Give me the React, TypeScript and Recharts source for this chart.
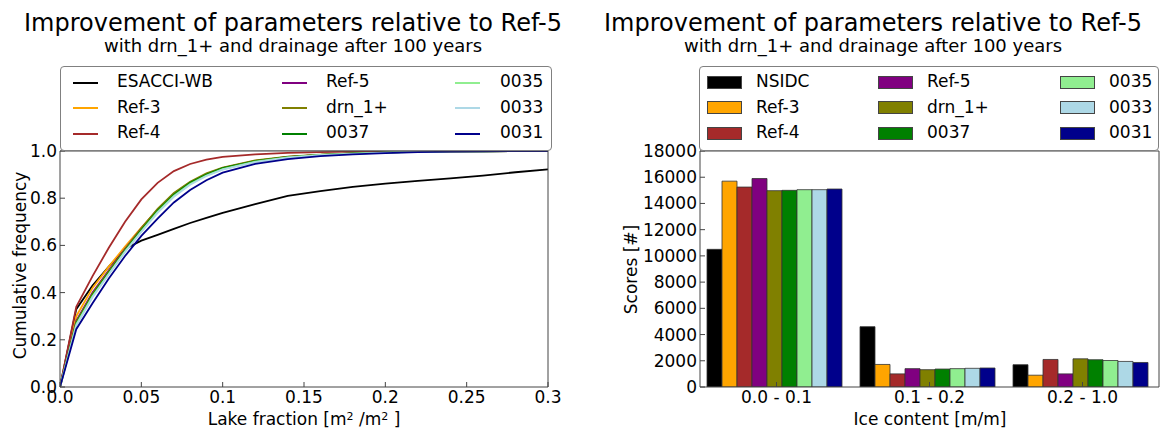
import React from 'react';
import { LineChart, Line, XAxis, YAxis, BarChart, Bar } from 'recharts';

// ---------- Left chart data ----------
const lakeFraction = [0, 0.01, 0.02, 0.03, 0.04, 0.05, 0.06, 0.07, 0.08, 0.09, 0.1, 0.12, 0.14, 0.16, 0.18, 0.2, 0.22, 0.24, 0.26, 0.28, 0.3];
const esacciWB = [0, 0.33, 0.43, 0.51, 0.585, 0.62, 0.645, 0.67, 0.695, 0.717, 0.738, 0.775, 0.81, 0.83, 0.848, 0.862, 0.873, 0.884, 0.896, 0.91, 0.922];
const lineRef3 = [0, 0.3, 0.42, 0.51, 0.595, 0.675, 0.75, 0.815, 0.865, 0.9, 0.927, 0.958, 0.975, 0.984, 0.99, 0.994, 0.996, 0.998, 0.999, 1.0, 1.0];
const lineRef4 = [0, 0.34, 0.47, 0.59, 0.7, 0.795, 0.865, 0.915, 0.945, 0.963, 0.975, 0.986, 0.992, 0.995, 0.997, 0.998, 0.999, 0.999, 1.0, 1.0, 1.0];
const lineRef5 = [0, 0.28, 0.4, 0.495, 0.585, 0.672, 0.752, 0.818, 0.866, 0.902, 0.928, 0.958, 0.975, 0.984, 0.99, 0.994, 0.996, 0.998, 0.999, 1.0, 1.0];
const lineDrn1 = [0, 0.275, 0.395, 0.49, 0.583, 0.672, 0.755, 0.822, 0.87, 0.905, 0.93, 0.96, 0.976, 0.985, 0.99, 0.994, 0.996, 0.998, 0.999, 1.0, 1.0];
const line0037 = [0, 0.27, 0.39, 0.485, 0.578, 0.665, 0.747, 0.815, 0.865, 0.9, 0.927, 0.957, 0.974, 0.984, 0.99, 0.994, 0.996, 0.998, 0.999, 1.0, 1.0];
const line0035 = [0, 0.265, 0.385, 0.48, 0.575, 0.66, 0.742, 0.81, 0.86, 0.896, 0.923, 0.955, 0.973, 0.983, 0.989, 0.993, 0.996, 0.998, 0.999, 1.0, 1.0];
const line0033 = [0, 0.26, 0.38, 0.478, 0.572, 0.657, 0.738, 0.806, 0.857, 0.894, 0.921, 0.953, 0.972, 0.982, 0.988, 0.993, 0.996, 0.998, 0.999, 1.0, 1.0];
const line0031 = [0, 0.245, 0.355, 0.46, 0.555, 0.64, 0.713, 0.782, 0.835, 0.876, 0.908, 0.945, 0.966, 0.978, 0.986, 0.991, 0.995, 0.997, 0.999, 1.0, 1.0];

const lineXTicks = [0, 0.05, 0.1, 0.15, 0.2, 0.25, 0.3];
const lineXTickLabels = ['0.0', '0.05', '0.1', '0.15', '0.2', '0.25', '0.3'];
const lineYTicks = [0, 0.2, 0.4, 0.6, 0.8, 1.0];
const lineYTickLabels = ['0.0', '0.2', '0.4', '0.6', '0.8', '1.0'];

const lineSeries = [
  { name: 'ESACCI-WB', color: '#000000', values: esacciWB },
  { name: 'Ref-3', color: '#FFA500', values: lineRef3 },
  { name: 'Ref-4', color: '#A52A2A', values: lineRef4 },
  { name: 'Ref-5', color: '#800080', values: lineRef5 },
  { name: 'drn_1+', color: '#808000', values: lineDrn1 },
  { name: '0037', color: '#008000', values: line0037 },
  { name: '0035', color: '#90EE90', values: line0035 },
  { name: '0033', color: '#ADD8E6', values: line0033 },
  { name: '0031', color: '#00008B', values: line0031 },
];

// ---------- Right chart data ----------
const iceCategories = ['0.0 - 0.1', '0.1 - 0.2', '0.2 - 1.0'];
const barNSIDC = [10500, 4600, 1700];
const barRef3 = [15700, 1720, 900];
const barRef4 = [15250, 1000, 2100];
const barRef5 = [15900, 1400, 1000];
const barDrn1 = [14975, 1320, 2150];
const bar0037 = [15000, 1370, 2080];
const bar0035 = [15050, 1400, 2020];
const bar0033 = [15050, 1425, 1950];
const bar0031 = [15100, 1450, 1870];
const barYTicks = [0, 2000, 4000, 6000, 8000, 10000, 12000, 14000, 16000, 18000];

const barSeries = [
  { name: 'NSIDC', color: '#000000', values: barNSIDC },
  { name: 'Ref-3', color: '#FFA500', values: barRef3 },
  { name: 'Ref-4', color: '#A52A2A', values: barRef4 },
  { name: 'Ref-5', color: '#800080', values: barRef5 },
  { name: 'drn_1+', color: '#808000', values: barDrn1 },
  { name: '0037', color: '#008000', values: bar0037 },
  { name: '0035', color: '#90EE90', values: bar0035 },
  { name: '0033', color: '#ADD8E6', values: bar0033 },
  { name: '0031', color: '#00008B', values: bar0031 },
];

const lineData = lakeFraction.map((x, i) => {
  const row: Record<string, number> = { x };
  lineSeries.forEach((s) => { row[s.name] = s.values[i]; });
  return row;
});

const barData = iceCategories.map((cat, i) => {
  const row: Record<string, any> = { cat };
  barSeries.forEach((s) => { row[s.name] = s.values[i]; });
  return row;
});

const FONT = 'DejaVu Sans, Verdana, sans-serif';
const tickStyle = { fontSize: 17, fill: '#000', fontFamily: FONT };
const frameColor = '#444';

const TITLE = 'Improvement of parameters relative to Ref-5';
const SUBTITLE = 'with drn_1+ and drainage after 100 years';

function Titles({ center }: { center: number }) {
  return (
    <>
      <div style={{ position: 'absolute', left: center - 300, width: 600, top: 10.5, fontSize: 24, lineHeight: '24px', textAlign: 'center', whiteSpace: 'nowrap' }}>{TITLE}</div>
      <div style={{ position: 'absolute', left: center - 300, width: 600, top: 37, fontSize: 18, lineHeight: '18px', textAlign: 'center', whiteSpace: 'nowrap' }}>{SUBTITLE}</div>
    </>
  );
}

const rowCenters = [15.5, 41, 66.5];

function LineLegend() {
  const symX = [12, 221, 394];
  const textX = [56, 265, 439];
  return (
    <div style={{ position: 'absolute', left: 60, top: 66, width: 492, height: 85, border: '1px solid #808080', borderRadius: 4, boxSizing: 'border-box', background: '#fff' }}>
      {lineSeries.map((s, i) => {
        const c = Math.floor(i / 3);
        const r = i % 3;
        return (
          <React.Fragment key={s.name}>
            <div style={{ position: 'absolute', left: symX[c], top: rowCenters[r] - 1, width: 25, height: 2, background: s.color }} />
            <div style={{ position: 'absolute', left: textX[c], top: rowCenters[r] - 9.2, fontSize: 17, lineHeight: '17px', whiteSpace: 'nowrap' }}>{s.name}</div>
          </React.Fragment>
        );
      })}
    </div>
  );
}

function BarLegend() {
  const symX = [7, 178, 360];
  const textX = [56, 227, 409];
  return (
    <div style={{ position: 'absolute', left: 699, top: 66, width: 460, height: 85, border: '1px solid #808080', borderRadius: 4, boxSizing: 'border-box', background: '#fff' }}>
      {barSeries.map((s, i) => {
        const c = Math.floor(i / 3);
        const r = i % 3;
        return (
          <React.Fragment key={s.name}>
            <div style={{ position: 'absolute', left: symX[c], top: rowCenters[r] - 7, width: 35, height: 13, background: s.color, border: '1px solid #444', boxSizing: 'border-box' }} />
            <div style={{ position: 'absolute', left: textX[c], top: rowCenters[r] - 9.2, fontSize: 17, lineHeight: '17px', whiteSpace: 'nowrap' }}>{s.name}</div>
          </React.Fragment>
        );
      })}
    </div>
  );
}

export default function App() {
  return (
    <div style={{ position: 'absolute', left: 0, top: 0, width: 1175, height: 432, background: '#fff', fontFamily: FONT, color: '#000', overflow: 'hidden' }}>
      {/* Left chart */}
      <div style={{ position: 'absolute', left: 0, top: 0 }}>
        <LineChart width={600} height={432} data={lineData} margin={{ top: 150, right: 51, bottom: 1, left: 0 }} style={{ fontFamily: FONT }}>
          <XAxis dataKey="x" type="number" domain={[0, 0.3]} ticks={lineXTicks}
            tickFormatter={(v: number) => lineXTickLabels[lineXTicks.indexOf(v)] ?? String(v)}
            height={44} tickSize={-5} tickMargin={9} tick={tickStyle} interval={0}
            axisLine={{ stroke: frameColor }} tickLine={{ stroke: frameColor }} allowDataOverflow />
          <XAxis xAxisId="top" orientation="top" dataKey="x" type="number" domain={[0, 0.3]} ticks={lineXTicks}
            height={1} tickSize={-5} tick={false} axisLine={{ stroke: frameColor }} tickLine={{ stroke: frameColor }} allowDataOverflow />
          <YAxis type="number" domain={[0, 1]} ticks={lineYTicks}
            tickFormatter={(v: number) => lineYTickLabels[lineYTicks.indexOf(v)] ?? String(v)}
            width={60} tickSize={-5} tickMargin={8} tick={tickStyle} interval={0}
            axisLine={{ stroke: frameColor }} tickLine={{ stroke: frameColor }} allowDataOverflow />
          <YAxis yAxisId="right" orientation="right" type="number" domain={[0, 1]} ticks={lineYTicks}
            width={1} tickSize={-5} tick={false} axisLine={{ stroke: frameColor }} tickLine={{ stroke: frameColor }} allowDataOverflow />
          {lineSeries.map((s) => (
            <Line key={s.name} type="linear" dataKey={s.name} stroke={s.color} strokeWidth={1.8} dot={false} isAnimationActive={false} />
          ))}
        </LineChart>
      </div>

      {/* Right chart */}
      <div style={{ position: 'absolute', left: 600, top: 0 }}>
        <BarChart width={600} height={432} data={barData} margin={{ top: 150, right: 40, bottom: 1, left: 0 }} barGap={0} barCategoryGap={7} style={{ fontFamily: FONT }}>
          <XAxis dataKey="cat" height={44} tickSize={-5} tickMargin={9} tick={tickStyle} interval={0}
            axisLine={{ stroke: frameColor }} tickLine={{ stroke: frameColor }} />
          <XAxis xAxisId="top" orientation="top" dataKey="cat" height={1} tickSize={-5} tick={false}
            axisLine={{ stroke: frameColor }} tickLine={{ stroke: frameColor }} />
          <YAxis type="number" domain={[0, 18000]} ticks={barYTicks} width={100} tickSize={-5} tickMargin={8} tick={tickStyle} interval={0}
            axisLine={{ stroke: frameColor }} tickLine={{ stroke: frameColor }} allowDataOverflow />
          <YAxis yAxisId="right" orientation="right" type="number" domain={[0, 18000]} ticks={barYTicks} width={1} tickSize={-5} tick={false}
            axisLine={{ stroke: frameColor }} tickLine={{ stroke: frameColor }} allowDataOverflow />
          {barSeries.map((s) => (
            <Bar key={s.name} dataKey={s.name} fill={s.color} stroke="#333" strokeWidth={0.8} isAnimationActive={false} />
          ))}
        </BarChart>
      </div>

      {/* Titles */}
      <Titles center={293} />
      <Titles center={873} />

      {/* Legends */}
      <LineLegend />
      <BarLegend />

      {/* Axis labels */}
      <div style={{ position: 'absolute', left: 0, width: 608, top: 411, fontSize: 17, lineHeight: '17px', textAlign: 'center', whiteSpace: 'nowrap' }}>
        Lake fraction [m<sup style={{ fontSize: 11, verticalAlign: 'top', lineHeight: '11px' }}>2</sup> /m<sup style={{ fontSize: 11, verticalAlign: 'top', lineHeight: '11px' }}>2</sup> ]
      </div>
      <div style={{ position: 'absolute', left: 730, width: 400, top: 411, fontSize: 17, lineHeight: '17px', textAlign: 'center', whiteSpace: 'nowrap' }}>Ice content [m/m]</div>
      <div style={{ position: 'absolute', left: 20 - 150, width: 300, top: 265 - 8.5, fontSize: 17, lineHeight: '17px', textAlign: 'center', whiteSpace: 'nowrap', transform: 'rotate(-90deg)' }}>Cumulative frequency</div>
      <div style={{ position: 'absolute', left: 631 - 150, width: 300, top: 269 - 8.5, fontSize: 17, lineHeight: '17px', textAlign: 'center', whiteSpace: 'nowrap', transform: 'rotate(-90deg)' }}>Scores [#]</div>
    </div>
  );
}
